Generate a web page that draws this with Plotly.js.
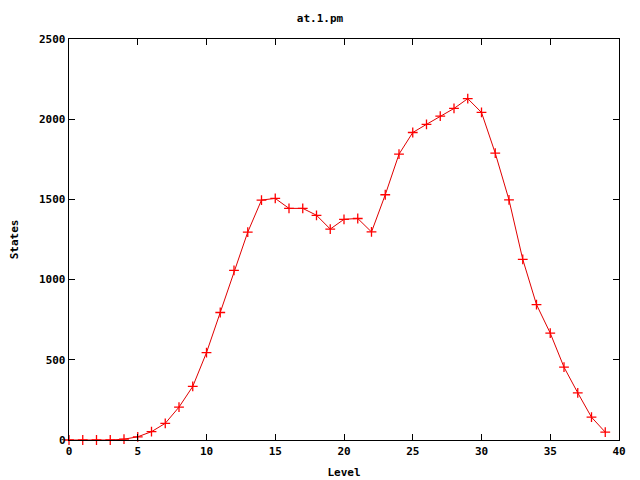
<!DOCTYPE html>
<html>
<head>
<meta charset="utf-8">
<script src="https://cdn.plot.ly/plotly-3.0.1.min.js"></script>
<style>html,body{margin:0;padding:0;background:#fff;}#chart{width:640px;height:480px;}</style>
</head>
<body>
<div id="chart"></div>
<script>
const levels = [0,1,2,3,4,5,6,7,8,9,10,11,12,13,14,15,16,17,18,19,20,21,22,23,24,25,26,27,28,29,30,31,32,33,34,35,36,37,38,39];
const states = [0,0,0,0,5,20,52,104,205,334,545,795,1058,1296,1496,1506,1444,1444,1401,1315,1376,1381,1297,1529,1782,1917,1968,2019,2067,2128,2042,1788,1497,1126,844,666,454,294,142,49];
const xTicks = [0,5,10,15,20,25,30,35,40];
const yTicks = [0,500,1000,1500,2000,2500];

const font = {family: "DejaVu Sans Mono", size: 11, color: "#000"};

const trace = {
  x: levels, y: states, type: "scatter", mode: "lines+markers",
  line: {color: "#e00000", width: 1},
  marker: {symbol: "cross-thin-open", size: 7, color: "#ff0000", line: {color: "#ff0000", width: 1.3}},
  cliponaxis: false, showlegend: false
};

const axisCommon = {
  showgrid: false, zeroline: false, showline: true, linecolor: "#000", linewidth: 1.3,
  mirror: "allticks", ticks: "inside", ticklen: 6, tickcolor: "#000", tickwidth: 1,
  tickfont: {family: "DejaVu Sans Mono", size: 11, color: "#000", weight: "bold"}
};

const layout = {
  width: 640, height: 480,
  margin: {l: 69, r: 21, t: 39, b: 40},
  paper_bgcolor: "#fff", plot_bgcolor: "#fff",
  font: font,
  title: {text: "at.1.pm", x: 0.5, xanchor: "center", y: 0.963, yanchor: "middle",
          font: {family: "DejaVu Sans Mono", size: 11, color: "#000", weight: "bold"}},
  xaxis: Object.assign({}, axisCommon, {
    range: [0, 40], tickvals: xTicks, ticktext: xTicks.map(String),
    title: {text: "Level", standoff: 11, font: {family: "DejaVu Sans Mono", size: 11, color: "#000", weight: "bold"}}
  }),
  yaxis: Object.assign({}, axisCommon, {
    range: [0, 2500], tickvals: yTicks, ticktext: yTicks.map(String),
    title: {text: "States", standoff: 18, font: {family: "DejaVu Sans Mono", size: 11, color: "#000", weight: "bold"}}
  })
};

Plotly.newPlot("chart", [trace], layout, {staticPlot: true, displayModeBar: false});
</script>
</body>
</html>
